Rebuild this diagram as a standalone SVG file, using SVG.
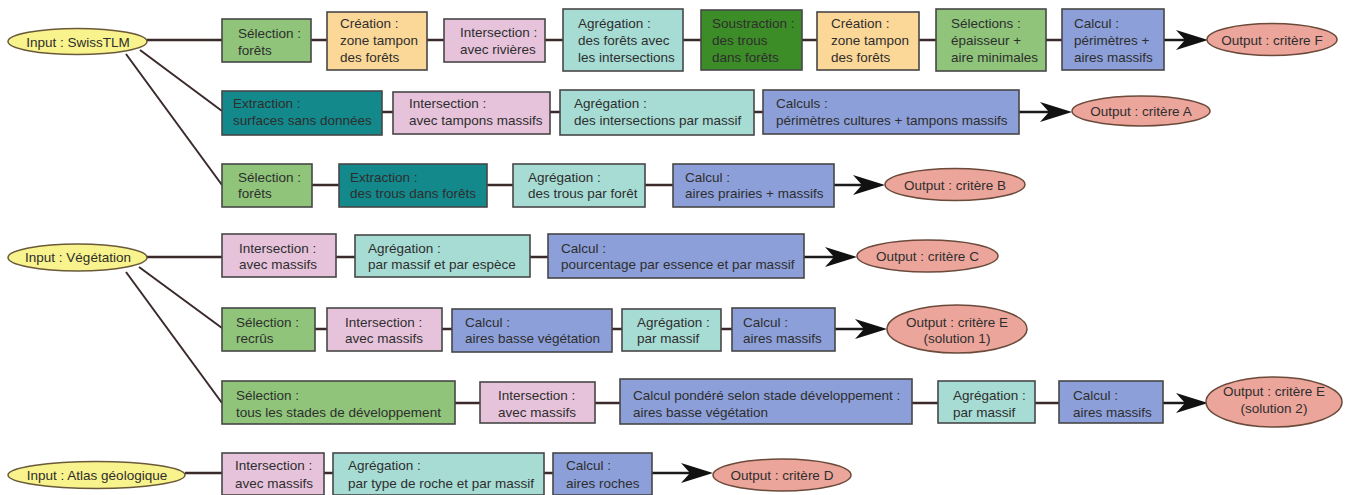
<svg xmlns="http://www.w3.org/2000/svg" width="1356" height="495" viewBox="0 0 1356 495">
<defs>
<marker id="ah" viewBox="0 0 32 20" refX="26" refY="10" markerWidth="32" markerHeight="20" markerUnits="userSpaceOnUse" orient="auto">
<path d="M0,0 L32,10 L0,20 L9,10 Z" fill="#111"/>
</marker>
</defs>
<style>
text{font-family:"Liberation Sans",Arial,sans-serif;font-size:13.5px;fill:#2e2e2e}
.b{stroke:#474747;stroke-width:1.6}
.sel{fill:#8fc47a}
.cre{fill:#fcd898}
.int{fill:#e6c3db}
.agr{fill:#a6dcd4}
.sou{fill:#3c8c28}
.ext{fill:#13898b}
.cal{fill:#8c9fd8}
.in{fill:#f8f38c;stroke:#6a5a3a;stroke-width:1.5}
.out{fill:#eca59b;stroke:#6a4a3a;stroke-width:1.5}
.c{fill:none;stroke:#3a2a2a;stroke-width:2.5}
.d{fill:none;stroke:#3a2a2a;stroke-width:2}
.a{fill:none;stroke:#1a1a1a;stroke-width:2.5;marker-end:url(#ah)}
.m{text-anchor:middle}
</style>
<rect width="1356" height="495" fill="#ffffff"/>

<g id="connectors">
<!-- row 1 -->
<line class="c" x1="147" y1="40" x2="222" y2="40"/>
<line class="c" x1="311" y1="40" x2="327" y2="40"/>
<line class="c" x1="427" y1="40" x2="444" y2="40"/>
<line class="c" x1="545" y1="40" x2="563" y2="40"/>
<line class="c" x1="683" y1="40" x2="701" y2="40"/>
<line class="c" x1="802" y1="40" x2="817" y2="40"/>
<line class="c" x1="919" y1="40" x2="936" y2="40"/>
<line class="c" x1="1046" y1="40" x2="1062" y2="40"/>
<line class="a" x1="1164" y1="40" x2="1202" y2="40"/>
<!-- row 2 -->
<line class="d" x1="140" y1="50" x2="222" y2="111"/>
<line class="c" x1="382" y1="112" x2="393" y2="112"/>
<line class="c" x1="550" y1="112" x2="560" y2="112"/>
<line class="c" x1="754" y1="112" x2="763" y2="112"/>
<line class="a" x1="1019" y1="112" x2="1066" y2="112"/>
<!-- row 3 -->
<line class="d" x1="126" y1="54" x2="222" y2="185"/>
<line class="c" x1="312" y1="185" x2="339" y2="185"/>
<line class="c" x1="487" y1="185" x2="513" y2="185"/>
<line class="c" x1="645" y1="185" x2="673" y2="185"/>
<line class="a" x1="834" y1="185" x2="879" y2="185"/>
<!-- row 4 -->
<line class="c" x1="147" y1="257" x2="222" y2="257"/>
<line class="c" x1="336" y1="257" x2="355" y2="257"/>
<line class="c" x1="530" y1="257" x2="548" y2="257"/>
<line class="a" x1="804" y1="257" x2="851" y2="257"/>
<!-- row 5 -->
<line class="d" x1="139" y1="267" x2="222" y2="328"/>
<line class="c" x1="315" y1="329" x2="327" y2="329"/>
<line class="c" x1="442" y1="329" x2="452" y2="329"/>
<line class="c" x1="612" y1="329" x2="622" y2="329"/>
<line class="c" x1="721" y1="329" x2="732" y2="329"/>
<line class="a" x1="835" y1="329" x2="881" y2="329"/>
<!-- row 6 -->
<line class="d" x1="126" y1="272" x2="222" y2="403"/>
<line class="c" x1="455" y1="403" x2="480" y2="403"/>
<line class="c" x1="595" y1="403" x2="620" y2="403"/>
<line class="c" x1="912" y1="403" x2="938" y2="403"/>
<line class="c" x1="1035" y1="403" x2="1059" y2="403"/>
<line class="a" x1="1163" y1="403" x2="1202" y2="403"/>
<!-- row 7 -->
<line class="c" x1="185" y1="473" x2="222" y2="473"/>
<line class="c" x1="324" y1="473" x2="333" y2="473"/>
<line class="c" x1="544" y1="473" x2="553" y2="473"/>
<line class="a" x1="652" y1="473" x2="707" y2="473"/>
</g>

<!-- inputs -->
<g id="in-swisstlm"><ellipse class="in" cx="77.5" cy="41.5" rx="69.5" ry="13"/><text class="m" x="78" y="46.5">Input : SwissTLM</text></g>
<g id="in-vegetation"><ellipse class="in" cx="77.5" cy="257.5" rx="69.5" ry="13.5"/><text class="m" x="78" y="262">Input : Végétation</text></g>
<g id="in-atlas"><ellipse class="in" cx="96.5" cy="475" rx="88.5" ry="13.5"/><text class="m" x="97" y="479.5">Input : Atlas géologique</text></g>

<!-- row 1 -->
<g id="r1-selection"><rect class="b sel" x="222" y="19" width="89" height="43"/><text><tspan x="238" y="37.5">Sélection :</tspan><tspan x="238" y="54.5">forêts</tspan></text></g>
<g id="r1-creation"><rect class="b cre" x="327" y="12" width="100" height="58"/><text><tspan x="340" y="28">Création :</tspan><tspan x="340" y="45">zone tampon</tspan><tspan x="340" y="62">des forêts</tspan></text></g>
<g id="r1-intersection"><rect class="b int" x="444" y="19" width="101" height="43"/><text><tspan x="460" y="37">Intersection :</tspan><tspan x="460" y="53.5">avec rivières</tspan></text></g>
<g id="r1-agregation"><rect class="b agr" x="563" y="9" width="120" height="62"/><text><tspan x="578" y="28">Agrégation :</tspan><tspan x="578" y="45">des forêts avec</tspan><tspan x="578" y="62">les intersections</tspan></text></g>
<g id="r1-soustraction"><rect class="b sou" x="701" y="10" width="101" height="60"/><text><tspan x="712" y="28">Soustraction :</tspan><tspan x="712" y="45">des trous</tspan><tspan x="712" y="62">dans forêts</tspan></text></g>
<g id="r1-creation2"><rect class="b cre" x="817" y="12" width="102" height="58"/><text><tspan x="831" y="28">Création :</tspan><tspan x="831" y="45">zone tampon</tspan><tspan x="831" y="62">des forêts</tspan></text></g>
<g id="r1-selections"><rect class="b sel" x="936" y="9" width="110" height="62"/><text><tspan x="951" y="28">Sélections :</tspan><tspan x="951" y="45">épaisseur +</tspan><tspan x="951" y="62">aire minimales</tspan></text></g>
<g id="r1-calcul"><rect class="b cal" x="1062" y="9" width="102" height="61"/><text><tspan x="1074" y="28">Calcul :</tspan><tspan x="1074" y="45">périmètres +</tspan><tspan x="1074" y="62">aires massifs</tspan></text></g>
<g id="out-f"><ellipse class="out" cx="1272" cy="39.5" rx="65" ry="16"/><text class="m" x="1272" y="44.5">Output : critère F</text></g>

<!-- row 2 -->
<g id="r2-extraction"><rect class="b ext" x="222" y="91" width="160" height="44"/><text><tspan x="233" y="108">Extraction :</tspan><tspan x="233" y="125">surfaces sans données</tspan></text></g>
<g id="r2-intersection"><rect class="b int" x="393" y="92" width="157" height="42"/><text><tspan x="409" y="108">Intersection :</tspan><tspan x="409" y="125">avec tampons massifs</tspan></text></g>
<g id="r2-agregation"><rect class="b agr" x="560" y="90" width="194" height="45"/><text><tspan x="574" y="108">Agrégation :</tspan><tspan x="574" y="125">des intersections par massif</tspan></text></g>
<g id="r2-calculs"><rect class="b cal" x="763" y="90" width="256" height="44"/><text><tspan x="776" y="108">Calculs :</tspan><tspan x="776" y="125">périmètres cultures + tampons massifs</tspan></text></g>
<g id="out-a"><ellipse class="out" cx="1141" cy="111" rx="69" ry="15"/><text class="m" x="1141" y="116">Output : critère A</text></g>

<!-- row 3 -->
<g id="r3-selection"><rect class="b sel" x="222" y="164" width="90" height="43"/><text><tspan x="238" y="181.5">Sélection :</tspan><tspan x="238" y="198">forêts</tspan></text></g>
<g id="r3-extraction"><rect class="b ext" x="339" y="164" width="148" height="43"/><text><tspan x="350" y="181.5">Extraction :</tspan><tspan x="350" y="198">des trous dans forêts</tspan></text></g>
<g id="r3-agregation"><rect class="b agr" x="513" y="164" width="132" height="43"/><text><tspan x="528" y="181.5">Agrégation :</tspan><tspan x="528" y="198">des trous par forêt</tspan></text></g>
<g id="r3-calcul"><rect class="b cal" x="673" y="164" width="161" height="43"/><text><tspan x="685" y="181.5">Calcul :</tspan><tspan x="685" y="198">aires prairies + massifs</tspan></text></g>
<g id="out-b"><ellipse class="out" cx="955" cy="184.5" rx="70" ry="16"/><text class="m" x="955" y="189.5">Output : critère B</text></g>

<!-- row 4 -->
<g id="r4-intersection"><rect class="b int" x="222" y="234" width="114" height="43"/><text><tspan x="239" y="252.5">Intersection :</tspan><tspan x="239" y="269">avec massifs</tspan></text></g>
<g id="r4-agregation"><rect class="b agr" x="355" y="235" width="175" height="42"/><text><tspan x="368" y="252.5">Agrégation :</tspan><tspan x="368" y="269">par massif et par espèce</tspan></text></g>
<g id="r4-calcul"><rect class="b cal" x="548" y="234" width="256" height="44"/><text><tspan x="561" y="252.5">Calcul :</tspan><tspan x="561" y="269">pourcentage par essence et par massif</tspan></text></g>
<g id="out-c"><ellipse class="out" cx="927.5" cy="256" rx="70.5" ry="16"/><text class="m" x="927.5" y="261">Output : critère C</text></g>

<!-- row 5 -->
<g id="r5-selection"><rect class="b sel" x="222" y="308" width="93" height="43"/><text><tspan x="236" y="326.5">Sélection :</tspan><tspan x="236" y="343">recrûs</tspan></text></g>
<g id="r5-intersection"><rect class="b int" x="327" y="308" width="115" height="43"/><text><tspan x="345" y="326.5">Intersection :</tspan><tspan x="345" y="343">avec massifs</tspan></text></g>
<g id="r5-calcul"><rect class="b cal" x="452" y="309" width="160" height="43"/><text><tspan x="465" y="326.5">Calcul :</tspan><tspan x="465" y="343">aires basse végétation</tspan></text></g>
<g id="r5-agregation"><rect class="b agr" x="622" y="309" width="99" height="42"/><text><tspan x="637" y="326.5">Agrégation :</tspan><tspan x="637" y="343">par massif</tspan></text></g>
<g id="r5-calcul2"><rect class="b cal" x="732" y="308" width="103" height="43"/><text><tspan x="743" y="326.5">Calcul :</tspan><tspan x="743" y="343">aires massifs</tspan></text></g>
<g id="out-e1"><ellipse class="out" cx="957" cy="329" rx="70" ry="24"/><text class="m"><tspan x="957" y="326.5">Output : critère E</tspan><tspan x="957" y="343">(solution 1)</tspan></text></g>

<!-- row 6 -->
<g id="r6-selection"><rect class="b sel" x="222" y="381" width="233" height="43"/><text><tspan x="236" y="399.5">Sélection :</tspan><tspan x="236" y="416.5">tous les stades de développement</tspan></text></g>
<g id="r6-intersection"><rect class="b int" x="480" y="382" width="115" height="41"/><text><tspan x="498" y="399.5">Intersection :</tspan><tspan x="498" y="416.5">avec massifs</tspan></text></g>
<g id="r6-calcul"><rect class="b cal" x="620" y="379" width="292" height="45"/><text><tspan x="633" y="399.5">Calcul pondéré selon stade développement :</tspan><tspan x="633" y="416.5">aires basse végétation</tspan></text></g>
<g id="r6-agregation"><rect class="b agr" x="938" y="381" width="97" height="42"/><text><tspan x="953" y="399.5">Agrégation :</tspan><tspan x="953" y="416.5">par massif</tspan></text></g>
<g id="r6-calcul2"><rect class="b cal" x="1059" y="381" width="104" height="42"/><text><tspan x="1073" y="399.5">Calcul :</tspan><tspan x="1073" y="416.5">aires massifs</tspan></text></g>
<g id="out-e2"><ellipse class="out" cx="1274" cy="402" rx="68" ry="25"/><text class="m"><tspan x="1274" y="396">Output : critère E</tspan><tspan x="1274" y="412.5">(solution 2)</tspan></text></g>

<!-- row 7 -->
<g id="r7-intersection"><rect class="b int" x="222" y="453" width="102" height="42"/><text><tspan x="235" y="469.5">Intersection :</tspan><tspan x="235" y="487.5">avec massifs</tspan></text></g>
<g id="r7-agregation"><rect class="b agr" x="333" y="453" width="211" height="42"/><text><tspan x="348" y="469.5">Agrégation :</tspan><tspan x="348" y="487.5">par type de roche et par massif</tspan></text></g>
<g id="r7-calcul"><rect class="b cal" x="553" y="453" width="99" height="42"/><text><tspan x="566" y="469.5">Calcul :</tspan><tspan x="566" y="487.5">aires roches</tspan></text></g>
<g id="out-d"><ellipse class="out" cx="782" cy="475" rx="69" ry="16"/><text class="m" x="782" y="480">Output : critère D</text></g>
</svg>
